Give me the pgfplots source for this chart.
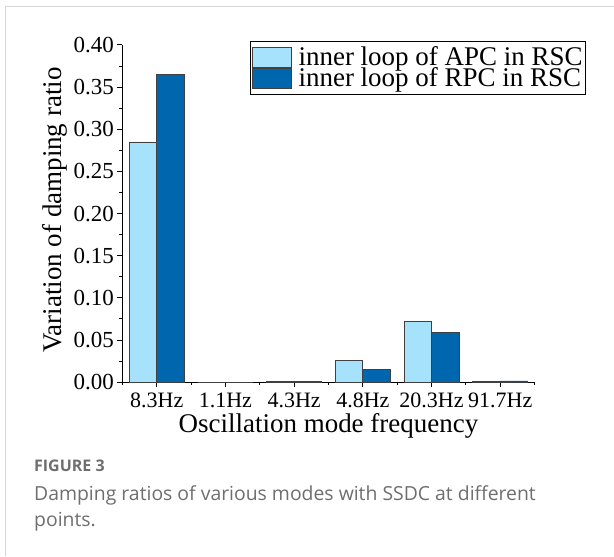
\documentclass[border=0pt]{standalone}
\usepackage{fontspec}
\setmainfont{Liberation Serif}
\newfontfamily\capfont{Open Sans}
\usepackage{pgfplots}
\pgfplotsset{compat=1.18}
\definecolor{lightb}{RGB}{166,226,252}
\definecolor{darkb}{RGB}{0,102,174}
\definecolor{capgray}{RGB}{110,110,110}
\definecolor{cardgray}{RGB}{215,215,215}
\begin{document}
\begin{tikzpicture}
\path (-122.5pt,-173.5pt) rectangle (491.5pt,382.5pt);
\draw[cardgray, line width=1pt] (-116.5pt,-173.5pt) -- (-116.5pt,376pt) -- (491.5pt,376pt);
\begin{axis}[
  at={(0pt,0pt)}, anchor=origin,
  scale only axis,
  width=412.5pt, height=337.5pt,
  xmin=0.5, xmax=6.5, ymin=0, ymax=0.40,
  axis x line=bottom, axis y line=left,
  axis line style={-, line width=1.2pt},
  ybar=0pt, bar width=27.5pt,
  xtick={1,2,3,4,5,6},
  xticklabels={8.3Hz,1.1Hz,4.3Hz,4.8Hz,20.3Hz,91.7Hz},
  minor xtick={0.5,1.5,2.5,3.5,4.5,5.5,6.5},
  ytick={0,0.05,0.10,0.15,0.20,0.25,0.30,0.35,0.40},
  minor ytick={0.025,0.075,0.125,0.175,0.225,0.275,0.325,0.375},
  tick align=outside,
  major tick length=5pt, minor tick length=3pt,
  tick style={black, line width=1pt},
  /pgf/number format/assume math mode=true,
  yticklabel style={/pgf/number format/fixed, /pgf/number format/fixed zerofill, /pgf/number format/precision=2, font=\fontsize{23}{23}\selectfont},
  xticklabel style={anchor=base, yshift=-20pt, inner sep=0pt, text depth=0pt, font=\fontsize{22}{22}\selectfont},
  label style={font=\fontsize{27}{27}\selectfont},
  xlabel={Oscillation mode frequency},
  ylabel={Variation of damping ratio},
  xlabel style={at={(axis description cs:0.5,0)}, anchor=base, yshift=-50pt, inner sep=0pt, text height=18pt},
  ylabel style={at={(axis description cs:0,0.5)}, anchor=base, yshift=60.5pt, xshift=3.5pt},
  legend style={at={(1.1236,1.0119)}, anchor=north east, draw=black, line width=0.8pt,
    font=\fontsize{27}{27}\selectfont, inner xsep=2pt, inner ysep=5.3pt, row sep=0pt,
    nodes={inner sep=0.5pt, text height=18.5pt, text depth=1.5pt}},
  legend cell align=left,
  legend image code/.code={\draw[#1] (0pt,-10pt) rectangle (39pt,9.5pt); \path (45pt,0pt);},
]
\addplot[fill=lightb, draw=black!75, line width=0.8pt] coordinates {(1,0.285) (2,0) (3,0.0005) (4,0.0255) (5,0.0725) (6,0.0005)};
\addplot[fill=darkb, draw=black!75, line width=0.8pt] coordinates {(1,0.365) (2,0) (3,0.001) (4,0.0153) (5,0.0595) (6,0.0015)};
\legend{inner loop of APC in RSC, inner loop of RPC in RSC}
\end{axis}
\node[anchor=base west, inner sep=0pt, font=\capfont\bfseries\fontsize{16}{16}\selectfont, text=capgray] at (-88.5pt,-89.5pt) {FIGURE 3};
\node[anchor=base west, inner sep=0pt, font=\capfont\fontsize{19.4}{19.4}\selectfont, text=capgray] at (-88.5pt,-118.5pt) {Damping ratios of various modes with SSDC at different};
\node[anchor=base west, inner sep=0pt, font=\capfont\fontsize{19.4}{19.4}\selectfont, text=capgray] at (-88.5pt,-144.5pt) {points.};
\end{tikzpicture}
\end{document}
